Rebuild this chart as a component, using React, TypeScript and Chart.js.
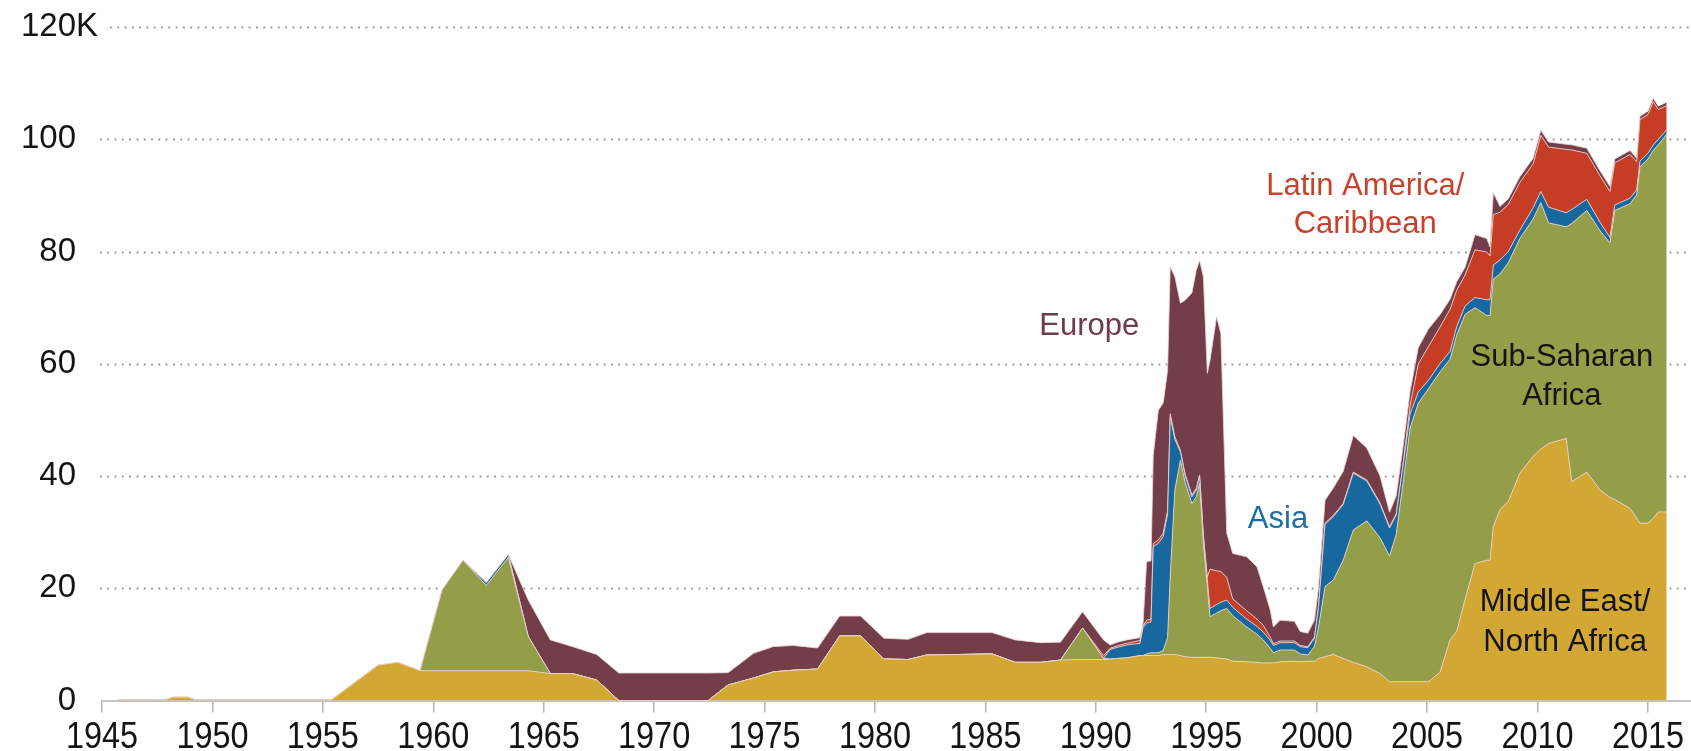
import React, { useEffect, useRef } from "react";
import { Chart, registerables } from "chart.js";

Chart.register(...registerables);

// Time points (decimal years)
const YEARS = [
  1945.7, 1947.9, 1948.2, 1948.9, 1949.2, 1955.4, 1957.5, 1958.4, 1959.4, 1960.4,
  1961.35, 1962.4, 1963.4, 1964.3, 1965.3, 1966.3, 1967.4, 1968.4, 1972.45, 1973.35,
  1974.5, 1975.4, 1976.3, 1977.4, 1978.4, 1979.35, 1980.4, 1981.5, 1982.35, 1985.3,
  1986.35, 1987.5, 1988.4, 1989.4, 1990.35, 1990.65, 1991.0, 1991.4, 1992.0, 1992.14,
  1992.3, 1992.5, 1992.6, 1992.83, 1993.05, 1993.25, 1993.37, 1993.58, 1993.83, 1994.04,
  1994.35, 1994.55, 1994.7, 1994.87, 1995.05, 1995.17, 1995.47, 1995.66, 1995.93, 1996.2,
  1996.83, 1997.3, 1997.58, 1997.9, 1998.04, 1998.34, 1999.0, 1999.25, 1999.6, 1999.9,
  2000.08, 2000.38, 2000.76, 2001.2, 2001.66, 2002.27, 2002.87, 2003.3, 2003.6, 2003.93,
  2004.23, 2004.6, 2005.06, 2005.58, 2006.04, 2006.34, 2006.72, 2007.17, 2007.7, 2007.85,
  2008.0, 2008.3, 2008.68, 2009.2, 2009.8, 2010.15, 2010.5, 2011.3, 2011.55, 2012.23,
  2012.83, 2013.28, 2013.5, 2014.19, 2014.49, 2014.64, 2015.0, 2015.24, 2015.47, 2015.85,
];

// Thousands of peacekeepers by region
const MENA = [
  0.15, 0.15, 0.6, 0.6, 0.15, 0.15, 6.3, 6.8, 5.3, 5.3,
  5.3, 5.3, 5.3, 5.3, 4.8, 4.8, 3.65, 0, 0, 2.76,
  4.0, 5.1, 5.4, 5.6, 11.5, 11.5, 7.4, 7.3, 8.1, 8.3,
  6.8, 6.8, 7.2, 7.3, 7.3, 7.4, 7.5, 7.6, 8.0, 8.0,
  8.0, 8.0, 8.0, 8.0, 8.2, 8.2, 8.2, 8.2, 8.0, 7.8,
  7.7, 7.7, 7.7, 7.7, 7.7, 7.7, 7.6, 7.5, 7.4, 7.0,
  6.9, 6.8, 6.7, 6.7, 6.7, 6.9, 7.0, 6.9, 7.0, 7.0,
  7.5, 7.8, 8.2, 7.5, 6.8, 6.0, 4.8, 3.35, 3.35, 3.35,
  3.35, 3.35, 3.35, 5.0, 10.8, 12.3, 18.0, 24.4, 25.0, 25.0,
  31.0, 34.0, 35.5, 40.5, 43.5, 44.8, 45.8, 46.7, 39.0, 40.7,
  37.5, 36.2, 35.8, 34.2, 32.5, 31.6, 31.6, 32.5, 33.6, 33.6,
];

const SSA = [
  0, 0, 0, 0, 0, 0, 0, 0, 0, 14.4,
  19.7, 15.2, 20.2, 6.1, 0, 0, 0, 0, 0, 0,
  0, 0, 0, 0, 0, 0, 0, 0, 0, 0,
  0, 0, 0, 5.6, 0.2, 0, 0, 0, 0, 0,
  0.3, 0.5, 0.5, 0.5, 0.7, 3.0, 14.0, 29.3, 34.8, 31.1,
  27.4, 28.6, 31.0, 20.3, 12.6, 7.2, 8.0, 8.5, 9.0, 8.1,
  6.2, 5.0, 4.1, 2.6, 1.8, 2.1, 2.0, 1.4, 1.1, 2.6,
  5.5, 12.5, 13.3, 17.5, 23.6, 26.0, 24.2, 22.4, 26.2, 36.0,
  45.2, 49.6, 52.2, 53.5, 50.0, 52.8, 50.8, 45.6, 43.6, 43.6,
  44.1, 42.0, 42.5, 41.8, 42.3, 43.9, 39.3, 37.7, 46.0, 46.6,
  46.2, 45.3, 51.5, 54.3, 57.6, 63.5, 64.9, 65.5, 65.4, 67.3,
];

const ASIA = [
  0, 0, 0, 0, 0, 0, 0, 0, 0, 0,
  0, 0.5, 0.5, 0, 0, 0, 0, 0, 0, 0,
  0, 0, 0, 0, 0, 0, 0, 0, 0, 0,
  0, 0, 0, 0, 0, 1.7, 2.0, 2.3, 2.2, 5.0,
  5.5, 5.5, 18.9, 19.5, 20.3, 22.0, 28.3, 9.0, 1.5, 1.2,
  1.2, 1.2, 1.2, 1.2, 1.2, 1.5, 1.5, 1.5, 1.5, 1.5,
  1.4, 1.4, 1.4, 1.4, 1.3, 1.3, 1.3, 1.3, 1.3, 1.5,
  3.5, 11.1, 11.3, 9.9, 10.1, 7.1, 6.0, 5.0, 3.5, 3.0,
  2.5, 2.0, 1.5, 1.5, 1.4, 1.5, 1.5, 1.8, 2.8, 2.8,
  2.5, 2.5, 2.0, 1.5, 2.0, 2.0, 2.8, 2.5, 2.5, 2.0,
  1.5, 1.0, 1.0, 1.0, 0.9, 1.0, 1.0, 1.0, 1.0, 0.8,
];

const LATAM = [
  0, 0, 0, 0, 0, 0, 0, 0, 0, 0,
  0, 0, 0, 0, 0, 0, 0, 0, 0, 0,
  0, 0, 0, 0, 0, 0, 0, 0, 0, 0,
  0, 0, 0, 0, 0.5, 0.2, 0.3, 0.3, 0.5, 0.3,
  0.5, 0.5, 0.6, 0.6, 0.6, 0.6, 0.6, 0.5, 0.3, 0.3,
  0.3, 0.3, 0.3, 0.3, 0.5, 7.0, 6.0, 5.5, 4.0, 1.5,
  1.5, 1.3, 1.2, 0.6, 0.3, 0.3, 0.3, 0.2, 0.2, 0.2,
  0.2, 0.2, 0.2, 0.2, 0.2, 0.2, 0.2, 0.2, 0.2, 0.3,
  1.5, 5.0, 6.0, 6.5, 7.5, 6.5, 5.5, 8.5, 8.5, 7.8,
  9.0, 8.5, 8.4, 8.5, 7.8, 10.0, 10.7, 11.3, 10.6, 8.2,
  8.3, 8.2, 7.5, 7.8, 5.0, 7.4, 6.9, 7.7, 5.3, 4.3,
];

const EUROPE = [
  0, 0, 0, 0, 0, 0, 0, 0, 0, 0,
  0, 0, 0, 6.5, 6.0, 4.8, 4.55, 4.9, 4.9, 2.2,
  4.4, 4.5, 4.4, 3.75, 3.55, 3.55, 3.7, 3.6, 4.0, 3.8,
  4.0, 3.5, 3.2, 2.9, 2.8, 0.6, 0.6, 0.6, 0.5, 0.5,
  10.4, 10.4, 15.7, 23.1, 23.2, 25.0, 26.2, 28.5, 26.2, 30.9,
  36.0, 38.9, 38.2, 46.0, 36.3, 37.2, 45.3, 42.4, 7.9, 8.1,
  9.6, 9.3, 6.9, 4.8, 3.0, 3.7, 3.5, 2.5, 2.4, 3.0,
  3.3, 4.1, 4.9, 5.7, 6.5, 5.7, 4.8, 2.6, 3.2, 3.1,
  2.5, 2.9, 3.15, 2.2, 1.8, 1.5, 1.4, 2.7, 2.4, 1.6,
  3.9, 1.0, 1.0, 1.0, 1.0, 0.9, 0.9, 0.9, 0.9, 0.9,
  0.9, 0.9, 0.7, 0.7, 0.6, 0.6, 0.6, 0.6, 0.6, 0.6,
];

const X_TICKS = [1945, 1950, 1955, 1960, 1965, 1970, 1975, 1980, 1985, 1990, 1995, 2000, 2005, 2010, 2015];
const X_TICK_LABELS = X_TICKS.map((v) => String(v));
const Y_TICKS = [0, 20, 40, 60, 80, 100, 120];
const Y_TICK_LABELS = ["0", "20", "40", "60", "80", "100", "120"];
const Y_TOP_SUFFIX = "K";

const SERIES_NAMES = ["Middle East/North Africa", "Sub-Saharan Africa", "Asia", "Latin America/Caribbean", "Europe"];
const SERIES_COLORS = ["#D2A733", "#949D48", "#17689E", "#C63D26", "#733D49"];

// Direct labels: text lines, anchor year, values for each line, colour
const ANNOTATIONS = [
  { lines: ["Europe"], year: 1989.7, values: [67.4], color: "#6E3B47" },
  { lines: ["Asia"], year: 1998.25, values: [32.9], color: "#1D6FA3" },
  { lines: ["Latin America/", "Caribbean"], year: 2002.2, values: [92.3, 85.5], color: "#C9412C" },
  { lines: ["Sub-Saharan", "Africa"], year: 2011.1, values: [61.8, 54.8], color: "#141414" },
  { lines: ["Middle East/", "North Africa"], year: 2011.25, values: [18.1, 11.0], color: "#141414" },
];

const FONT = "'Liberation Sans', Arial, sans-serif";

const decorPlugin = {
  id: "decor",
  beforeDatasetsDraw(chart: any) {
    const { ctx, chartArea } = chart;
    const y = chart.scales.y;
    ctx.save();
    ctx.strokeStyle = "#969696";
    ctx.lineWidth = 1.8;
    ctx.setLineDash([1.8, 5.5]);
    Y_TICKS.forEach((v) => {
      if (v === 0) return;
      const py = Math.round(y.getPixelForValue(v)) + 0.5;
      const startX = v === 120 ? chartArea.left + 8 : chartArea.left - 2;
      ctx.beginPath();
      ctx.moveTo(startX, py);
      ctx.lineTo(chart.width, py);
      ctx.stroke();
    });
    ctx.restore();
  },
  afterDraw(chart: any) {
    const { ctx, chartArea } = chart;
    const x = chart.scales.x;
    const y = chart.scales.y;
    ctx.save();
    // y tick labels
    ctx.font = `33px ${FONT}`;
    ctx.fillStyle = "#141414";
    ctx.textBaseline = "middle";
    const rightX = chartArea.left - 26;
    Y_TICKS.forEach((v, i) => {
      const py = y.getPixelForValue(v);
      ctx.textAlign = "right";
      ctx.fillText(Y_TICK_LABELS[i], rightX, py);
      if (v === 120) {
        ctx.textAlign = "left";
        ctx.fillText(Y_TOP_SUFFIX, rightX, py);
      }
    });
    // x tick labels (slightly condensed)
    ctx.font = `36px ${FONT}`;
    ctx.textAlign = "center";
    ctx.textBaseline = "alphabetic";
    const baseY = y.getPixelForValue(0) + 47.5;
    X_TICKS.forEach((v, i) => {
      ctx.save();
      ctx.translate(x.getPixelForValue(v), baseY);
      ctx.scale(0.9, 1);
      ctx.fillText(X_TICK_LABELS[i], 0, 0);
      ctx.restore();
    });
    // direct labels
    ctx.font = `31px ${FONT}`;
    ctx.textAlign = "center";
    ctx.textBaseline = "middle";
    ANNOTATIONS.forEach((a) => {
      ctx.fillStyle = a.color;
      a.lines.forEach((line, i) => {
        ctx.fillText(line, x.getPixelForValue(a.year), y.getPixelForValue(a.values[i]) + 4);
      });
    });
    ctx.restore();
  },
};

export default function App() {
  const canvasRef = useRef<HTMLCanvasElement | null>(null);

  useEffect(() => {
    if (!canvasRef.current) return;
    const seriesData = [MENA, SSA, ASIA, LATAM, EUROPE];
    const datasets = seriesData.map((arr, si) => ({
      label: SERIES_NAMES[si],
      data: YEARS.map((yr, i) => ({ x: yr, y: arr[i] })),
      backgroundColor: SERIES_COLORS[si],
      borderColor: "rgba(236,212,208,0.85)",
      borderWidth: 1,
      pointRadius: 0,
      pointHoverRadius: 0,
      tension: 0,
      fill: si === 0 ? "origin" : "-1",
    }));

    const chart = new Chart(canvasRef.current, {
      type: "line",
      data: { datasets },
      options: {
        animation: false,
        responsive: false,
        maintainAspectRatio: false,
        layout: { padding: { left: 102, top: 27, right: 0, bottom: 38.5 } },
        plugins: {
          legend: { display: false },
          tooltip: { enabled: false },
        },
        scales: {
          x: {
            type: "linear",
            min: 1945,
            max: 2016.95,
            afterBuildTicks: (scale: any) => {
              scale.ticks = X_TICKS.map((v) => ({ value: v }));
            },
            ticks: { display: false },
            grid: {
              display: true,
              drawOnChartArea: false,
              drawTicks: true,
              tickLength: 12,
              color: "#b4b4b4",
              lineWidth: 1.5,
            },
            border: { display: true, color: "#c4c4c4", width: 2 },
          },
          y: {
            display: false,
            stacked: true,
            min: 0,
            max: 120,
          },
        },
      },
      plugins: [decorPlugin],
    });
    return () => chart.destroy();
  }, []);

  return (
    <div style={{ position: "fixed", left: 0, top: 0, width: 1691, height: 751, background: "#fff" }}>
      <canvas ref={canvasRef} width={1691} height={751} style={{ display: "block" }} />
    </div>
  );
}
